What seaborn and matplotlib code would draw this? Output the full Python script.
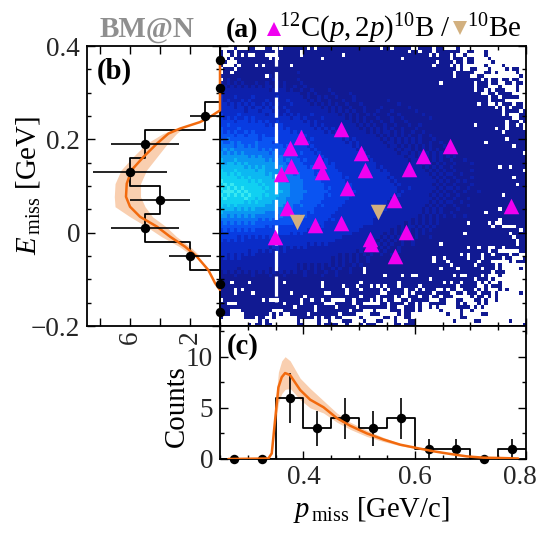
import numpy as np
import pandas as pd
import matplotlib
matplotlib.use("Agg")
import matplotlib.pyplot as plt
from matplotlib.colors import ListedColormap
from matplotlib.ticker import MultipleLocator, FixedLocator, FixedFormatter
from matplotlib.transforms import ScaledTranslation
import seaborn as sns

# ---------- data ----------
heat_colors = ["#111a92", "#0d20ac", "#0a2cc8", "#083ce2", "#0a54f2", "#0a74f4",
               "#0a98f2", "#0cb8f2", "#10d0f2", "#38e8f2"]
heat_rows = """
....0...00...00.0.0000 000.0.0000000000000000 00.00.00000..0000.00.. ..0...................
0.00.00000000000000000 0.00000000000000000000 0000000000.00.000.0000 000..00...0...........
0..0.0.0..000...000000 0.00000000000.00000000 0000000000000000.0.000 .0..0.....0...........
0.0.0000000000.0.00000 0000000.00000000000000 00000000.0000000000000 .000.00....0..........
00...00000000000000000 0000000000000000000000 000000000000000000.000 0.00.00.....0.........
0...0.0000.0.0000000.0 0000000000000000000000 00000000000000000.0000 .0.0......0....0......
.000.00000000000000000 0000000000000000000000 0000000000000000000000 00.0..00...0....0.00..
.00.000000000000000000 1000000000000000000000 0000000000000000000000 0.00000...00.0.....0..
1000000000000.10000000 0000000000000000000000 0000000000000000000000 0.0000..00..........0.
.010010000000001000000 1000000000000000000000 0000000000000000000000 000000000.0.00.00.00..
1010101000100100101000 0100000000000000000000 0000000000000000000.00 0000000.000.00..00.00.
1101010101010110101001 0010000000000000000000 0000000000000000000000 0000000.000...0....0..
1111111111111101111010 0100100001000000000000 0000000000000000000000 0000000.00.0.000...0..
1111111111111111111111 1001010000100001000000 0000000000000000000000 000000000..00.0000....
2111211112111111211111 1101001010010000100000 0000000000000000000000 00000000000.00.00000..
2121112121111211111211 1110101001000100100000 0000100000000000000000 00000000000.0000......
2212121212112121211121 1111010101010010001000 0000000100000000000000 00000000.00..0.000.00.
2222122121221212112111 1111111010101001000100 0010000000100000000000 0000000000000.0.0.000.
2222222122212221211211 1111111110101010100100 0100010000001000000000 000000000000000.0000.0
3222232222222122212121 2111211111110101010010 1000100100000010000000 000000000000000.0...00
3232322323222222222212 2121111211111101010100 0100010010000000100000 000000000000000000..00
3333233323232322322222 2212121111111111010101 0010010001000000000000 0000000000000000.000.0
3343333333333232232222 2222121211111111101010 1001001000100100000000 0000000.00000000.00.0.
4333343333333333232322 2222212121211111110101 0101010010001000000000 0000000000000.00.0000.
4343433434333333333323 2322222212121111111101 0101101010010010000000 000000000000000.000000
4444344344434333333333 3232222222221211111111 1010101010100100100000 0000000000000000000000
4454444444434444333333 3322322222222121211111 1101010101010100010000 0000000000000000.00000
5445454444544443433333 3333222222222212121111 1110110101010100100100 0000000000.00000000000
5555455454544444443433 3332322222222222121111 1111011010101010100010 000000000000000000.000
5656555555545454444343 3333232222222222212111 1111110101101010101000 1000000000000000000000
6565656555555545444443 3433323222222222222211 1111111011010101010100 000000000000000000000.
6666666656565555454444 3333332322222222222121 1111111110110101010101 0100000000000000000000
7666766666666565554544 4343333232222222222212 1111111111011101010100 1000100000000000000000
7677676766666666555454 4433333332322222222222 2111111111111010101010 0100001000000000000000
7777777676767666565554 4443433333322222222222 2121111111111101010100 10000000000000.00.0000
8777877777677666665554 4444433333332222222222 2212111111111110101010 010000100000000000000.
8878787777777676666554 5444434333333222222222 2222211111111111010101 1001000000000000000000
8888878787777776666555 5444443433333232222222 2222121111111111101010 010000100000000000.000
9888888878787777666555 5544444333333322222222 2222212111111111110101 0010100000000000000000
8989888888878777766655 5544444433333333222222 2222221211111111101010 0100001000000000000.00
9898989888887877766655 5544444434333333222222 2222222111211111110101 1010010000000000000000
8999898988888777776655 5554444443333333322222 2222222121111111101010 0100100010000000000000
9898989898887877766655 5544444434333333222222 2222221211111111010101 001000000000000.000000
8988888988787777666555 5544444433333332222222 2222212111111111101010 0100010000000000000000
8888888787877776666555 5444444333333322222222 2222121111111111010101 1001000000000000000000
8787877777777666665554 4544443433333222222222 2221211111111110101010 0100010000000000000000
7777676767666666555554 4444433333332222222222 2212111111111101010100 00100000000000.0000000
7666666666666555555454 4443433333322222222222 2121111111111101010100 1000000000.00000000000
6656565656555555454444 4343333333222222222222 2111111111111010101010 0100100000000000000000
5555555555545454444444 3433333332322222222222 1111111111101010101000 00000000000000.0000000
4545454545444444444443 3333333322222222222222 1111111110101010101000 00000.00000.0..0000000
4444444444444343433333 3333332322222222222111 1111111010110101010000 000000000000.00....000
3434343434333333333333 3332322222222222221111 1111101010101010100000 00000000000000000000.0
3333333333333333333323 2322222222222222111111 1110101010101010000000 0000.000000000000.0000
3333323232323232222222 2222222222222111111111 1101010100101000100000 000000000000000000.000
3232323222222222222222 2222222222211111111111 1010101010010000000000 0000000000000000000.00
2222222222222222222222 2221212121111111111111 0101010010010000000.00 0000000000000000000.00
2222222222222212212121 2121111111111111111110 1010100100000000000000 00000.00.00..00.000000
2222222212212121212111 1111111111111111101010 0101000100000000000000 00000000000.00......00
2212121212111111111111 1111111111110101010101 0010010000000000000000 000.0.000.00.0000.00..
1212121111111111111111 1111111111010101010010 00000000000000000.00.0 00000.000.00000.00...0
1111111111111111111111 1111111111010101010010 00000000000000000.000. 00000000.000.....0.000
1111111111111111111111 0101010101010100101000 0000000000000000000000 .000000.00000.0.......
1111101111111101011111 0101010100101001000.00 0000000000000000000.00 00.000000.000.0.....0.
0101010101010101010101 0010010010010001000.00 0000000000000000000000 000000000000.000......
0000100001000010001000 0010000100010000000000 000.0000.00..000000000 0.0..0000.0...0.......
0000000000000000000000 0000000000000000000000 0000000000000000.00000 0000000.000.0.........
000.0000.000000000.000 0000000.0000000000.000 0000000.000000000000.0 .00.0000.0.0..0.......
0000000000000000000000 0000000.00000.000.000. 0.0.000.00000.00000000 00.00000..0.000.......
0000.0.000000000000000 00000000000000.000.000 00.0.0000.00.0.000..0. 00..000.0.0...0.0.....
0000.0000.0000000000.0 00000000..0000.0000000 00..00000.0.00000.0000 ..00.000.000.0......0.
0000000000000000000000 00.000000000000000.000 0.0000.0..000.00.00.00 0.....0.00.0.0........
.00000000000.0...00000 0.00.00.00....00.0000. 0.0.00..00.00000...00. ..00...00.0..0........
00...0000000000000.000 0.000000...00000.00... ..00.0000.00.0..00000. ..0.0...0.0...........
000000000000000000000. 00000.00000.00000.0000 0000.00..000.0..0.0... ..0000.0.0............
000...000000000...0000 00000.000000000.000... 0....000.000.0.....0.. ...0..0...............
000....0000000.0.0..00 000.00000000.0000....0 00.....0.00..........0 ...0.....00...........
0......000.00..0...... 00000.0.00.00.....0... ...00.0..00........... ...00.................
...........0.0........ 0.....0..0...000...0.. .00...0...00.......... .0.....00........0....
........0.00.00....... 00....0.0000..0...0.00 0.....00.000.......... .....................0
""".split("\n")[1:-1]

boron_p = [0.467, 0.3955, 0.375, 0.663, 0.5026, 0.6155, 0.4284, 0.378, 0.590, 0.511, 0.3596, 0.433,
           0.4786, 0.7735, 0.370, 0.5635, 0.468, 0.420, 0.585, 0.349, 0.519, 0.521, 0.5647]
boron_e = [0.2215, 0.2043, 0.182, 0.186, 0.170, 0.164, 0.153, 0.142, 0.137, 0.134, 0.126, 0.130,
           0.0957, 0.058, 0.053, 0.069, 0.0214, 0.0165, 0.0008, -0.0086, -0.0136, -0.024, -0.05]
beryl_p = [0.389, 0.534]
beryl_e = [0.0235, 0.0443]

p_edges = [0.25, 0.30, 0.35, 0.40, 0.45, 0.50, 0.55, 0.60, 0.65, 0.70, 0.75, 0.80]
p_counts = [0, 0, 6, 3, 4, 3, 4, 1, 1, 0, 1]
e_edges = [-0.20, -0.14, -0.08, -0.02, 0.04, 0.10, 0.16, 0.22, 0.28, 0.34, 0.40]
e_counts = [0, 0, 2, 5, 4, 6, 5, 1, 0, 0]

p_curve_x = [0.265, 0.337, 0.343, 0.349, 0.355, 0.361, 0.367, 0.376, 0.394, 0.412, 0.436, 0.46, 0.484,
             0.514, 0.544, 0.574, 0.604, 0.634, 0.663, 0.693, 0.723, 0.753, 0.786]
p_curve_y = [0, 0.05, 0.55, 3.8, 7.0, 8.0, 8.4, 8.2, 6.75, 5.8, 5.06, 4.0, 3.25,
             2.5, 1.9, 1.4, 1.07, 0.75, 0.5, 0.26, 0.13, 0.1, 0.05]
p_band_x = [0.343, 0.349, 0.355, 0.361, 0.367, 0.376, 0.394, 0.412, 0.436, 0.46, 0.484, 0.514, 0.544, 0.574, 0.604]
p_band_hi = [0.7, 5.0, 8.5, 9.6, 10.0, 9.6, 7.9, 6.9, 5.7, 4.5, 3.6, 2.8, 2.1, 1.5, 1.1]
p_band_lo = [0.4, 3.0, 5.5, 6.4, 6.8, 6.9, 5.8, 5.0, 4.5, 3.6, 2.9, 2.2, 1.7, 1.3, 1.0]

e_curve_y = [-0.1226, -0.108, -0.08, -0.051, -0.03, -0.0086, 0.0128, 0.034, 0.0556, 0.077, 0.105, 0.134,
             0.1625, 0.191, 0.2124, 0.223, 0.237, 0.248, 0.262, 0.30, 0.37]
e_curve_x = [0, 0.33, 0.78, 1.55, 2.33, 3.33, 4.2, 5.33, 6.0, 6.27, 6.22, 5.9,
             5.1, 4.2, 3.44, 2.67, 1.33, 0.67, 0, 0, 0]
e_band_y = [-0.051, -0.03, -0.0086, 0.0128, 0.034, 0.0556, 0.077, 0.105, 0.134, 0.1625, 0.191, 0.2124, 0.223]
e_band_lo = [1.3, 2.0, 2.9, 3.6, 4.5, 5.0, 5.3, 5.3, 4.9, 4.2, 3.5, 2.9, 2.5]
e_band_hi = [1.8, 2.7, 3.9, 4.9, 6.0, 7.0, 7.05, 7.0, 6.6, 5.8, 4.9, 3.8, 2.9]

# ---------- style ----------
W, H = 538, 533
sns.set_style("ticks")
plt.rcParams["font.family"] = ["Liberation Serif", "DejaVu Serif"]
plt.rcParams["mathtext.fontset"] = "custom"
plt.rcParams["mathtext.rm"] = "Liberation Serif"
plt.rcParams["mathtext.it"] = "Liberation Serif:italic"
plt.rcParams["mathtext.bf"] = "Liberation Serif:bold"
FS = 19.6
ORANGE = "#f26a0e"
BAND = "#f9cfb0"
MAGENTA = "#f000f0"
TAN = "#d2b07f"


def box(x0, y0, x1, y1):
    return [x0 / W, 1 - y1 / H, (x1 - x0) / W, (y1 - y0) / H]


def cell(v):
    return np.nan if v == "." else float(v)


def parse(rows):
    out = []
    for r in rows:
        groups = r.split()
        joined = "".join(g[:22].ljust(22, ".") for g in groups)
        out.append([cell(v) for v in joined])
    return np.array(out)


fig = plt.figure(figsize=(W / 100, H / 100), dpi=100, facecolor="white")
ax_heat = fig.add_axes(box(220, 46, 526, 326), zorder=0)
ax_main = fig.add_axes(box(220, 46, 526, 326), zorder=1)
ax_left = fig.add_axes(box(87, 46, 220, 326), zorder=3)
ax_low = fig.add_axes(box(220, 326, 526, 459), zorder=2)

# ---------- heat map ----------
grid = parse(heat_rows)
sns.heatmap(grid, ax=ax_heat, cbar=False, cmap=ListedColormap(heat_colors), vmin=-0.5, vmax=9.5,
            xticklabels=False, yticklabels=False, linewidths=0)
ax_heat.set_axis_off()

ax_main.patch.set_visible(False)
ax_main.plot([0.35, 0.35], [0.4, -0.148], color="white", lw=2.3, dashes=(6.3, 1.7), dash_capstyle="butt")
sns.scatterplot(x=boron_p, y=boron_e, ax=ax_main, marker="^", s=125, color=MAGENTA, linewidth=0, zorder=4)
sns.scatterplot(x=beryl_p, y=beryl_e, ax=ax_main, marker="v", s=125, color=TAN, linewidth=0, zorder=5)
ax_main.set_xlim(0.25, 0.80)
ax_main.set_ylim(-0.2, 0.4)
ax_main.xaxis.set_major_locator(MultipleLocator(0.2))
ax_main.xaxis.set_minor_locator(MultipleLocator(0.05))
ax_main.yaxis.set_major_locator(MultipleLocator(0.2))
ax_main.yaxis.set_minor_locator(MultipleLocator(0.05))
ax_main.tick_params(labelbottom=False, labelleft=False)

# ---------- panel (b) ----------
e_edges_a = np.array(e_edges)
e_centres = (e_edges_a[:-1] + e_edges_a[1:]) / 2
ax_left.fill_betweenx(e_band_y, e_band_lo, e_band_hi, color=BAND, lw=0, zorder=1)
sns.histplot(y=e_centres, weights=e_counts, bins=e_edges, element="step", fill=False, color="black",
             lw=1.3, ax=ax_left, zorder=2)
sns.lineplot(x=e_curve_x, y=e_curve_y, ax=ax_left, color=ORANGE, lw=1.8, sort=False, estimator=None,
             zorder=5).lines[-1].set_clip_on(False)
ax_left.errorbar(e_counts, e_centres, xerr=np.sqrt(e_counts), fmt="o", color="black", ms=6.8, mew=0,
                 elinewidth=1.2, clip_on=False, zorder=6)
ax_left.set_xlim(8.87, 0)
ax_left.set_ylim(-0.2, 0.4)
ax_left.set_xlabel("")
ax_left.set_ylabel("")
ax_left.xaxis.set_major_locator(FixedLocator([8, 6, 4, 2]))
ax_left.xaxis.set_major_formatter(FixedFormatter(["", "6", "", "2"]))
ax_left.yaxis.set_major_locator(FixedLocator([-0.2, 0, 0.2, 0.4]))
ax_left.yaxis.set_major_formatter(FixedFormatter(["\u22120.2", "0", "0.2", "0.4"]))
ax_left.yaxis.set_minor_locator(MultipleLocator(0.05))
for lab in ax_left.get_xticklabels():
    lab.set_rotation(90)
    lab.set_va("top")

# ---------- panel (c) ----------
p_edges_a = np.array(p_edges)
p_centres = (p_edges_a[:-1] + p_edges_a[1:]) / 2
ax_low.fill_between(p_band_x, p_band_lo, p_band_hi, color=BAND, lw=0, zorder=1)
sns.histplot(x=p_centres, weights=p_counts, bins=p_edges, element="step", fill=False, color="black",
             lw=1.3, ax=ax_low, zorder=2)
ax_low.errorbar(p_centres, p_counts, yerr=np.sqrt(p_counts), fmt="o", color="black", ms=6.8, mew=0,
                elinewidth=1.2, clip_on=False, zorder=3)
sns.lineplot(x=p_curve_x, y=p_curve_y, ax=ax_low, color=ORANGE, lw=1.8, sort=False, estimator=None, zorder=5)
ax_low.set_xlim(0.25, 0.80)
ax_low.set_ylim(0, 13)
ax_low.xaxis.set_major_locator(FixedLocator([0.4, 0.6, 0.8]))
ax_low.xaxis.set_major_formatter(FixedFormatter(["0.4", "0.6", "0.8"]))
ax_low.xaxis.set_minor_locator(MultipleLocator(0.05))
ax_low.yaxis.set_major_locator(FixedLocator([0, 5, 10]))
ax_low.yaxis.set_major_formatter(FixedFormatter(["0", "5", "10"]))
ax_low.yaxis.set_minor_locator(MultipleLocator(2.5))
ax_low.set_xlabel("")
ax_low.set_ylabel("")

for ax in (ax_main, ax_left, ax_low):
    for s in ax.spines.values():
        s.set_visible(True)
        s.set_linewidth(1.3)
        s.set_color("black")
    ax.tick_params(which="major", direction="in", length=6, width=1, top=True, right=True,
                   labelsize=FS, pad=5, color="black")
    ax.tick_params(which="minor", direction="in", length=3, width=1, top=True, right=True, color="black")
ax_left.tick_params(axis="x", which="major", pad=3)
ax_low.tick_params(axis="x", which="major", pad=4)
ax_low.tick_params(axis="y", which="major", pad=5)

# the last tick label of panel (c) is pulled inward so it stays on the page
ax_low.get_xticklabels()[-1].set_transform(
    ax_low.get_xticklabels()[-1].get_transform() + ScaledTranslation(-6 / 100, 0, fig.dpi_scale_trans))


def label(px, py, s, **kw):
    fig.text(px / W, 1 - py / H, s, va=kw.pop("va", "baseline"), ha=kw.pop("ha", "left"), **kw)


label(100, 37, "BM@N", fontsize=21, fontweight="bold", color="#8f8f8f")
label(226, 37, "(a)", fontsize=FS + 0.4, fontweight="bold", color="black")
label(97, 79, "(b)", fontsize=20.6, fontweight="bold", color="black")
label(227, 354, "(c)", fontsize=20.6, fontweight="bold", color="black")
label(279, 37, r"$^{12}$C($\mathit{p,2p}$)$^{10}$B /", fontsize=FS + 1.2, color="black")
label(467, 37, r"$^{10}$Be", fontsize=FS + 1.2, color="black")
label(36, 185, r"$\mathit{E}_{\,\mathrm{miss}}$ [GeV]", fontsize=FS + 1.2, rotation=90, ha="center",
      va="baseline", rotation_mode="anchor", color="black")
label(184, 406, "Counts", fontsize=FS + 1.2, rotation=90, ha="center", va="baseline",
      rotation_mode="anchor", color="black")
label(293, 517, r"$\mathit{p}_{\,\mathrm{miss}}$ [GeV/c]", fontsize=FS + 1.0, color="black")
fig.add_artist(plt.Line2D([274 / W], [1 - 29 / H], marker="^", ms=10, color=MAGENTA, mew=0, ls="none"))
fig.add_artist(plt.Line2D([460 / W], [1 - 28 / H], marker="v", ms=10, color=TAN, mew=0, ls="none"))

fig.savefig("out.png", dpi=100)
